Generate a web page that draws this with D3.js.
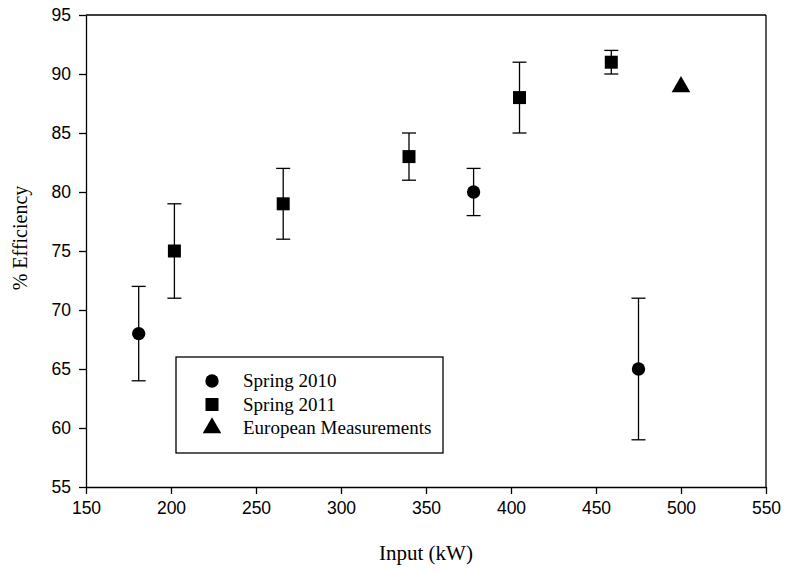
<!DOCTYPE html>
<html>
<head>
<meta charset="utf-8">
<script src="https://cdn.jsdelivr.net/npm/d3@7"></script>
<style>
  body { margin: 0; background: #fff; }
  .tick text { font-family: "Liberation Sans", Arial, sans-serif; font-size: 17.5px; fill: #000; }
  .domain, .tick line { stroke: #000; stroke-width: 1.3px; }
</style>
</head>
<body>
<div id="chart"></div>
<script>
// Spring 2010
var spring2010X = [181, 378, 475];
var spring2010Y = [68, 80, 65];
var spring2010Lo = [64, 78, 59];
var spring2010Hi = [72, 82, 71];

// Spring 2011
var spring2011X = [202, 266, 340, 405, 459];
var spring2011Y = [75, 79, 83, 88, 91];
var spring2011Lo = [71, 76, 81, 85, 90];
var spring2011Hi = [79, 82, 85, 91, 92];

// European
var europeX = [500];
var europeY = [89];

var xTicks = [150, 200, 250, 300, 350, 400, 450, 500, 550];
var yTicks = [55, 60, 65, 70, 75, 80, 85, 90, 95];
var legendLabels = ["Spring 2010", "Spring 2011", "European Measurements"];

var width = 786, height = 571;
var margin = {top: 15, right: 20, bottom: 84, left: 86};

var svg = d3.select("#chart").append("svg")
    .attr("width", width)
    .attr("height", height);

var x = d3.scaleLinear().domain([150, 550]).range([margin.left, width - margin.right]);
var y = d3.scaleLinear().domain([55, 95]).range([height - margin.bottom, margin.top]);

// frame top and right
svg.append("line")
    .attr("x1", x(150)).attr("x2", x(550))
    .attr("y1", y(95)).attr("y2", y(95))
    .attr("stroke", "#000").attr("stroke-width", 1.3);
svg.append("line")
    .attr("x1", x(550)).attr("x2", x(550))
    .attr("y1", y(95)).attr("y2", y(55))
    .attr("stroke", "#000").attr("stroke-width", 1.3);

svg.append("g")
    .attr("transform", "translate(0," + y(55) + ")")
    .call(d3.axisBottom(x).tickValues(xTicks).tickSize(7).tickPadding(8).tickSizeOuter(0));

svg.append("g")
    .attr("transform", "translate(" + x(150) + ",0)")
    .call(d3.axisLeft(y).tickValues(yTicks).tickSize(7).tickPadding(8).tickSizeOuter(0));

// axis titles
svg.append("text")
    .attr("x", 426).attr("y", 560)
    .attr("text-anchor", "middle")
    .style("font-family", "'Liberation Serif', 'Times New Roman', serif")
    .style("font-size", "21px")
    .text("Input (kW)");

svg.append("text")
    .attr("transform", "translate(27,238) rotate(-90)")
    .attr("text-anchor", "middle")
    .style("font-family", "'Liberation Serif', 'Times New Roman', serif")
    .style("font-size", "20px")
    .text("% Efficiency");

// error bars
function errorBars(xs, lo, hi) {
  var g = svg.append("g").attr("stroke", "#000").attr("stroke-width", 1.3);
  xs.forEach(function(v, i) {
    g.append("line").attr("x1", x(v)).attr("x2", x(v)).attr("y1", y(lo[i])).attr("y2", y(hi[i]));
    g.append("line").attr("x1", x(v) - 7).attr("x2", x(v) + 7).attr("y1", y(lo[i])).attr("y2", y(lo[i]));
    g.append("line").attr("x1", x(v) - 7).attr("x2", x(v) + 7).attr("y1", y(hi[i])).attr("y2", y(hi[i]));
  });
}
errorBars(spring2010X, spring2010Lo, spring2010Hi);
errorBars(spring2011X, spring2011Lo, spring2011Hi);

var circleSym = d3.symbol().type(d3.symbolCircle).size(140);
var squareSym = d3.symbol().type(d3.symbolSquare).size(169);
var triSym = d3.symbol().type(d3.symbolTriangle).size(150);

svg.selectAll("path.s2010")
    .data(spring2010X)
    .enter().append("path")
    .attr("class", "s2010")
    .attr("d", circleSym)
    .attr("transform", function(d, i) { return "translate(" + x(d) + "," + y(spring2010Y[i]) + ")"; })
    .attr("fill", "#000");

svg.selectAll("path.s2011")
    .data(spring2011X)
    .enter().append("path")
    .attr("class", "s2011")
    .attr("d", squareSym)
    .attr("transform", function(d, i) { return "translate(" + x(d) + "," + y(spring2011Y[i]) + ")"; })
    .attr("fill", "#000");

svg.selectAll("path.europe")
    .data(europeX)
    .enter().append("path")
    .attr("class", "europe")
    .attr("d", triSym)
    .attr("transform", function(d, i) { return "translate(" + x(d) + "," + (y(europeY[i]) + 1) + ")"; })
    .attr("fill", "#000");

// legend
var legend = svg.append("g");
legend.append("rect")
    .attr("x", 176).attr("y", 357)
    .attr("width", 267).attr("height", 96)
    .attr("fill", "#fff")
    .attr("stroke", "#000").attr("stroke-width", 1.3);

var syms = [circleSym, squareSym, triSym];
legendLabels.forEach(function(lab, i) {
  var cy = 381 + i * 23.5;
  legend.append("path")
      .attr("d", syms[i])
      .attr("transform", "translate(212," + cy + ")")
      .attr("fill", "#000");
  legend.append("text")
      .attr("x", 243).attr("y", cy + 6)
      .style("font-family", "'Liberation Serif', 'Times New Roman', serif")
      .style("font-size", "19px")
      .text(lab);
});
</script>
</body>
</html>
